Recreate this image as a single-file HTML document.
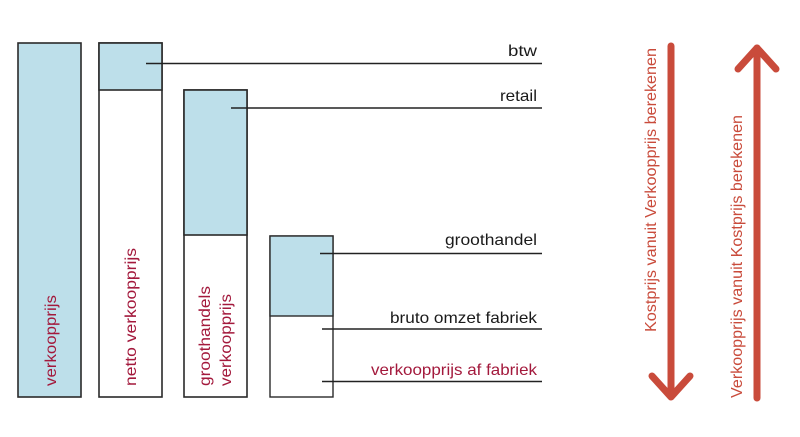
<!DOCTYPE html>
<html>
<head>
<meta charset="utf-8">
<style>
html,body{margin:0;padding:0;background:#fff;}
svg{display:block;}
text{font-family:"Liberation Sans",sans-serif;}
</style>
</head>
<body>
<svg width="800" height="437" viewBox="0 0 800 437" xmlns="http://www.w3.org/2000/svg">
  <rect x="0" y="0" width="800" height="437" fill="#fff"/>

  <!-- Box 1 -->
  <rect x="18" y="43" width="63" height="354" fill="#bddfea" stroke="#2a2a2a" stroke-width="1.6"/>
  <!-- Box 2 -->
  <rect x="99" y="43" width="63" height="354" fill="#fff" stroke="#2a2a2a" stroke-width="1.6"/>
  <rect x="99" y="43" width="63" height="47" fill="#bddfea" stroke="#2a2a2a" stroke-width="1.6"/>
  <!-- Box 3 -->
  <rect x="184" y="90" width="63" height="307" fill="#fff" stroke="#2a2a2a" stroke-width="1.6"/>
  <rect x="184" y="90" width="63" height="145" fill="#bddfea" stroke="#2a2a2a" stroke-width="1.6"/>
  <!-- Box 4 -->
  <rect x="270" y="236" width="63" height="161" fill="#fff" stroke="#2a2a2a" stroke-width="1.4"/>
  <rect x="270" y="236" width="63" height="80" fill="#bddfea" stroke="#2a2a2a" stroke-width="1.4"/>

  <!-- Leader lines -->
  <g stroke="#222" stroke-width="1.6">
    <line x1="146" y1="63.5" x2="542" y2="63.5"/>
    <line x1="231" y1="108" x2="542" y2="108"/>
    <line x1="320" y1="253.5" x2="542" y2="253.5"/>
    <line x1="322" y1="329" x2="542" y2="329"/>
    <line x1="322" y1="381.5" x2="542" y2="381.5"/>
  </g>

  <!-- Right labels -->
  <g font-size="16" fill="#1a1a1a" text-anchor="end">
    <text x="537" y="56" textLength="29" lengthAdjust="spacingAndGlyphs">btw</text>
    <text x="537" y="101" textLength="37" lengthAdjust="spacingAndGlyphs">retail</text>
    <text x="537" y="245" textLength="92" lengthAdjust="spacingAndGlyphs">groothandel</text>
    <text x="537" y="323" textLength="147" lengthAdjust="spacingAndGlyphs">bruto omzet fabriek</text>
  </g>
  <text x="537" y="375" font-size="16" fill="#a3193c" text-anchor="end" textLength="166" lengthAdjust="spacingAndGlyphs">verkoopprijs af fabriek</text>

  <!-- Rotated labels in bars -->
  <g font-size="16" fill="#a3193c">
    <text transform="translate(56,386) rotate(-90)" textLength="91" lengthAdjust="spacingAndGlyphs">verkoopprijs</text>
    <text transform="translate(136,386) rotate(-90)" textLength="138" lengthAdjust="spacingAndGlyphs">netto verkoopprijs</text>
    <text transform="translate(210,386) rotate(-90)" textLength="100" lengthAdjust="spacingAndGlyphs">groothandels</text>
    <text transform="translate(231,386) rotate(-90)" textLength="92" lengthAdjust="spacingAndGlyphs">verkoopprijs</text>
  </g>

  <!-- Arrows -->
  <g stroke="#c94b3b" stroke-width="7" stroke-linecap="round" stroke-linejoin="round" fill="none">
    <line x1="671" y1="46" x2="671" y2="396"/>
    <polyline points="652,376 671,397 690,376"/>
    <line x1="757" y1="48" x2="757" y2="398"/>
    <polyline points="738,69 757,48 776,69"/>
  </g>

  <g font-size="16" fill="#c94b3b">
    <text transform="translate(656,332) rotate(-90)" textLength="284" lengthAdjust="spacingAndGlyphs">Kostprijs vanuit Verkoopprijs berekenen</text>
    <text transform="translate(742,398) rotate(-90)" textLength="283" lengthAdjust="spacingAndGlyphs">Verkoopprijs vanuit Kostprijs berekenen</text>
  </g>
</svg>
</body>
</html>
